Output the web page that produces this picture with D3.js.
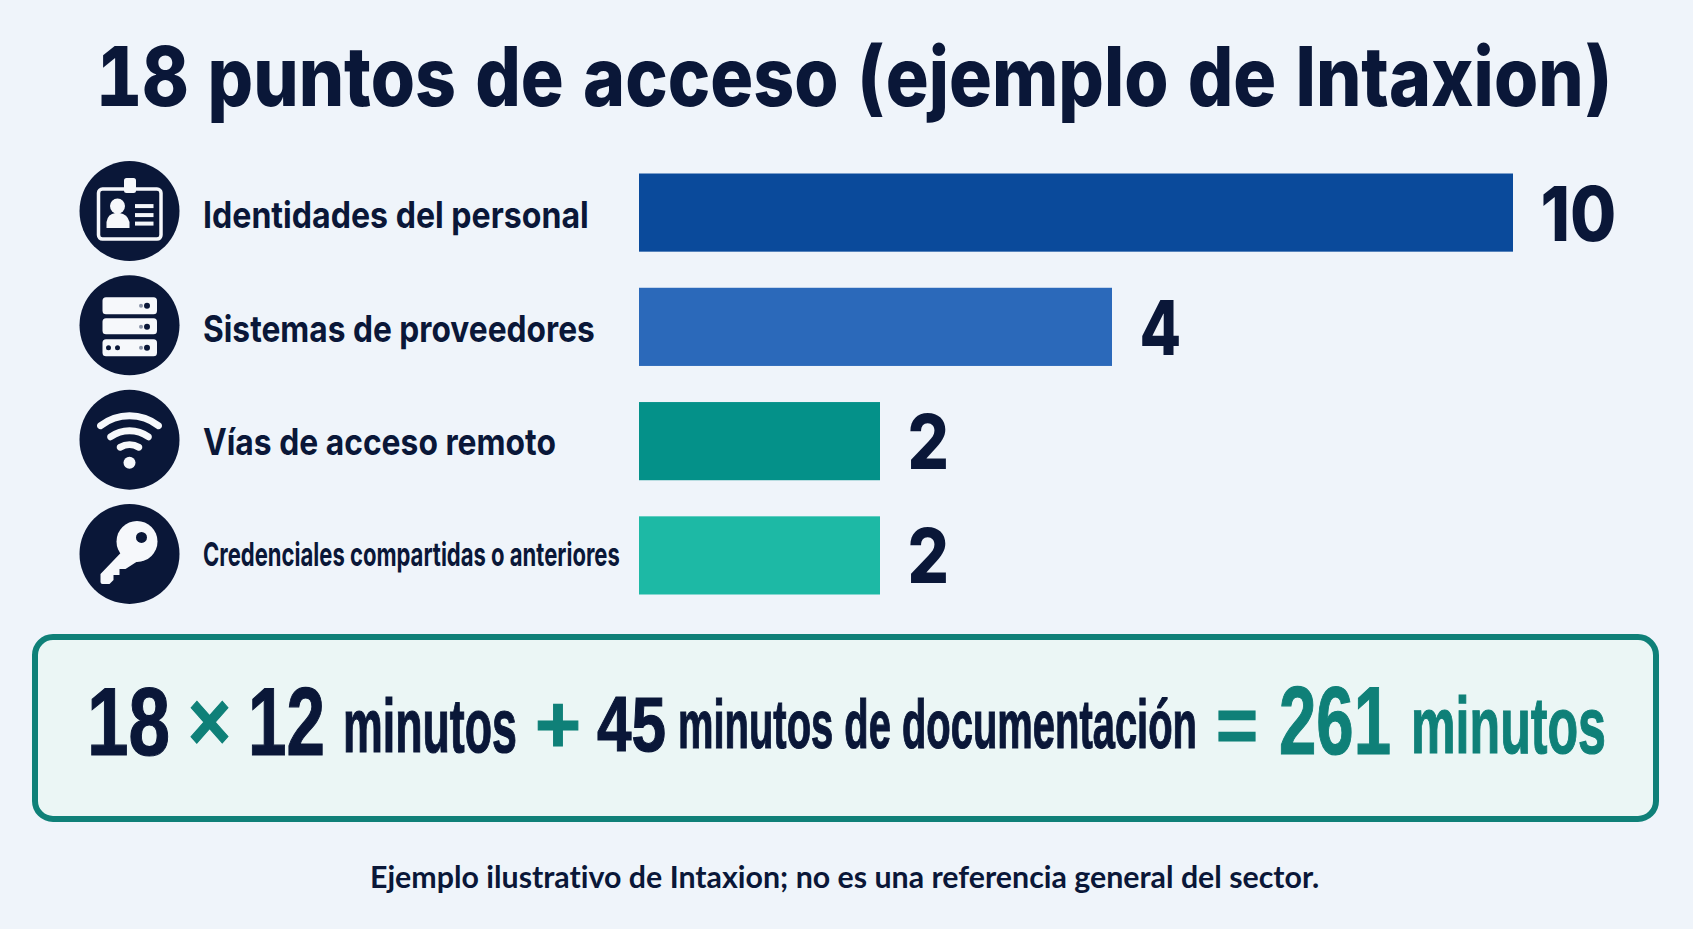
<!DOCTYPE html>
<html lang="es">
<head>
    <meta charset="UTF-8">
    <title>18 puntos de acceso (ejemplo de Intaxion)</title>
    <script src="https://d3js.org/d3.v7.min.js"></script>
    <style>
        html, body { margin: 0; padding: 0; background: #eff4fa; }
        svg { display: block; }
        text { font-family: Inter, sans-serif; font-weight: 700; fill: #0a1738; font-variant-ligatures: none; }
    </style>
</head>
<body>
<script>
// Chart data
const titleText = "18 puntos de acceso (ejemplo de Intaxion)";
const categories = ["Identidades del personal", "Sistemas de proveedores", "Vías de acceso remoto", "Credenciales compartidas o anteriores"];
const counts = [10, 4, 2, 2];
const footerText = "Ejemplo ilustrativo de Intaxion; no es una referencia general del sector.";
const formulaTexts = ["18", "×", "12", "minutos", "+", "45", "minutos de documentación", "=", "261", "minutos"];

const width = 1693, height = 929;
const navy = "#0a1738", teal = "#0f8078";
const formulaFont = "'Liberation Sans', sans-serif";

// Formula layout, one entry per token of formulaTexts
const formulaLayout = [
    {x: 87, w: 83, y: 755, size: 97, color: navy},
    {x: 188, w: 43, y: 750, size: 84, color: teal},
    {x: 248, w: 77, y: 755, size: 97, color: navy},
    {x: 343, w: 174, y: 752, size: 76, color: navy},
    {x: 535, w: 46, y: 752, size: 82, color: teal},
    {x: 597, w: 69, y: 751, size: 78, color: navy},
    {x: 678, w: 519, y: 748, size: 68, color: navy},
    {x: 1216, w: 42, y: 752, size: 80, color: teal},
    {x: 1279, w: 112, y: 754, size: 96, color: teal},
    {x: 1411, w: 195, y: 753, size: 80, color: teal}
];
const labelLayout = [
    {w: 386, y: 228, size: 37},
    {w: 392, y: 342, size: 37},
    {w: 353, y: 455, size: 37},
    {w: 417, y: 566, size: 33}
];

const svg = d3.select("body").append("svg")
    .attr("width", width)
    .attr("height", height);

svg.append("rect").attr("width", width).attr("height", height).attr("fill", "#eff4fa");

// Helper, squeezes text to the width it has in the picture
function label(parent, str, x, y, size, w, color, font) {
    const t = parent.append("text")
        .attr("font-size", size)
        .style("fill", color || navy)
        .style("font-family", font || null)
        .text(str);
    const sx = w / t.node().getComputedTextLength();
    return t.attr("transform", `translate(${x},${y}) scale(${sx},1)`);
}

// Title, heavier weight and tabular figures set before the width is measured
const titleEl = svg.append("text")
    .attr("font-size", 82)
    .style("font-weight", 800)
    .style("font-feature-settings", "'tnum'")
    .text(titleText);
titleEl.attr("transform", `translate(96,106) scale(${1516 / titleEl.node().getComputedTextLength()},1)`);

// Scales. The picture's bars are not proportional to the counts, so x goes through each count
const x = d3.scaleLinear().domain([0, 2, 4, 10]).range([639, 880, 1112, 1513]);
const y = d3.scaleBand().domain(categories).range([173.5, 594.5]).paddingInner(0.316);
const color = d3.scaleOrdinal().domain(categories).range(["#0a4a9b", "#2b69ba", "#049189", "#1db9a5"]);

const rows = categories.map((c, i) => ({category: c, count: counts[i], layout: labelLayout[i]}));

svg.selectAll(".bar")
    .data(rows)
    .enter()
    .append("rect")
    .attr("class", "bar")
    .attr("x", x(0))
    .attr("y", d => y(d.category))
    .attr("width", d => x(d.count) - x(0))
    .attr("height", y.bandwidth())
    .attr("fill", d => color(d.category));

rows.forEach(d => {
    label(svg, d.category, 203, d.layout.y, d.layout.size, d.layout.w);
    const cy = y(d.category) + y.bandwidth() / 2;
    const w = d.count > 9 ? 74 : 41;
    label(svg, String(d.count), x(d.count) + 27.5, cy + 28, 75, w).style("font-weight", 800);
});

// Icons
const iconCx = 129.5;
const icons = svg.selectAll(".icon")
    .data(rows)
    .enter()
    .append("g")
    .attr("class", "icon")
    .attr("transform", d => `translate(${iconCx},${y(d.category) + y.bandwidth() / 2 - 1.5})`);

icons.append("circle").attr("r", 50).attr("fill", navy);

const white = "#f6f8fb";

// Badge
const badge = d3.select(icons.nodes()[0]);
badge.append("rect").attr("x", -31).attr("y", -22).attr("width", 62.5).attr("height", 50).attr("rx", 4)
    .attr("fill", "none").attr("stroke", white).attr("stroke-width", 3.5);
badge.append("rect").attr("x", -5.5).attr("y", -33).attr("width", 12).attr("height", 15).attr("rx", 2.5).attr("fill", white);
badge.append("circle").attr("cx", -12).attr("cy", -5).attr("r", 7.5).attr("fill", white);
badge.append("path").attr("d", "M-23,17 L-23,11 Q-22,3 -14,2 L-10,2 Q-2,3 0,11 L0,17 Z").attr("fill", white);
[-5, 4, 12.5].forEach(v => {
    badge.append("rect").attr("x", 5.5).attr("y", v - 2).attr("width", 18.5).attr("height", 4).attr("fill", white);
});

// Server
const server = d3.select(icons.nodes()[1]);
[-28, -7, 14].forEach((v, i) => {
    server.append("rect").attr("x", -27).attr("y", v).attr("width", 54.5).attr("height", i == 1 ? 16 : 17).attr("rx", 3.5).attr("fill", white);
    server.append("circle").attr("cx", 17.5).attr("cy", v + 8.5).attr("r", 3).attr("fill", navy);
    server.append("circle").attr("cx", 11.5).attr("cy", v + 8.5).attr("r", 2).attr("fill", "#8a93a8");
});
[-21, -12].forEach(v => {
    server.append("circle").attr("cx", v).attr("cy", 22.5).attr("r", 2.5).attr("fill", navy);
});

// Wifi
const wifi = d3.select(icons.nodes()[2]);
[18, 32, 47].forEach(r => {
    wifi.append("path")
        .attr("transform", "translate(0,23)")
        .attr("d", d3.arc().innerRadius(r - 3.5).outerRadius(r + 3.5).startAngle(-0.74).endAngle(0.74).cornerRadius(3.5)())
        .attr("fill", white);
});
wifi.append("circle").attr("cy", 23).attr("r", 6).attr("fill", white);

// Key
const key = d3.select(icons.nodes()[3]);
key.append("path")
    .attr("d", "M-6,-4 L-29,20 L-29,28 Q-29,30 -27,30 L-20,30 L-16,26 L-16,21 L-10,21 L-10,15 L-4,15 L10,6 Z")
    .attr("fill", white);
key.append("circle").attr("cx", 7.5).attr("cy", -12.5).attr("r", 20.5).attr("fill", white);
key.append("circle").attr("cx", 12).attr("cy", -16.5).attr("r", 5.5).attr("fill", navy);

// Formula box
svg.append("rect")
    .attr("x", 35).attr("y", 637)
    .attr("width", 1621).attr("height", 182)
    .attr("rx", 18)
    .attr("fill", "#ebf6f5")
    .attr("stroke", teal)
    .attr("stroke-width", 6);

formulaTexts.forEach((t, i) => {
    const l = formulaLayout[i];
    label(svg, t, l.x, l.y, l.size, l.w, l.color, formulaFont)
        .style("stroke", l.color)
        .style("stroke-width", 1.2);
});

label(svg, footerText, 370, 888, 30, 950, navy, "Lato, sans-serif");
</script>
</body>
</html>
